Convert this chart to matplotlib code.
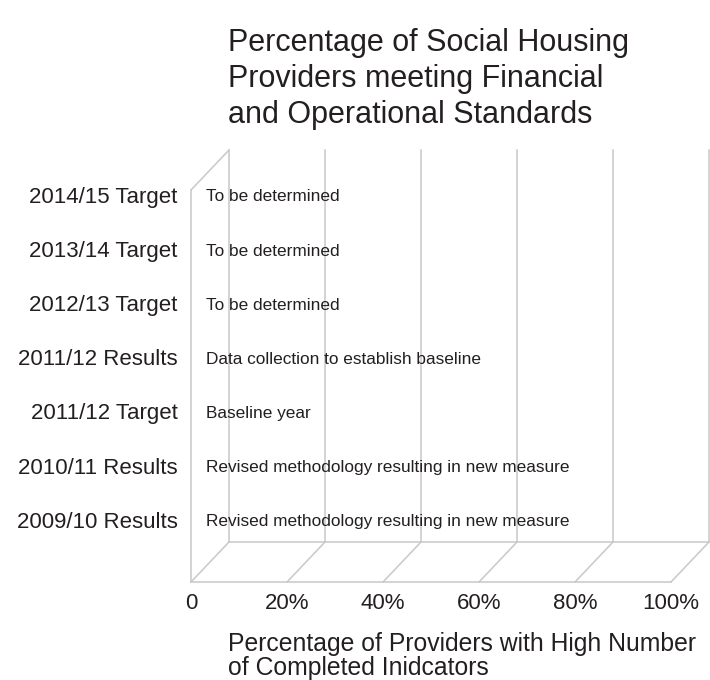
import matplotlib
matplotlib.use('Agg')
import matplotlib.pyplot as plt
from matplotlib.patches import ConnectionPatch
from matplotlib.transforms import ScaledTranslation

# ---------------------------------------------------------------------------
# Data
# ---------------------------------------------------------------------------
categories = [
    '2009/10 Results', '2010/11 Results', '2011/12 Target', '2011/12 Results',
    '2012/13 Target', '2013/14 Target', '2014/15 Target',
]
notes = [
    'Revised methodology resulting in new measure',
    'Revised methodology resulting in new measure',
    'Baseline year',
    'Data collection to establish baseline',
    'To be determined',
    'To be determined',
    'To be determined',
]
x_ticks = [0, 20, 40, 60, 80, 100]
x_tick_labels = ['0', '20%', '40%', '60%', '80%', '100%']

title = ('Percentage of Social Housing\n'
         'Providers meeting Financial\n'
         'and Operational Standards')
x_title = ('Percentage of Providers with High Number\n'
           'of Completed Inidcators')

TEXT = '#231f20'
GRID = '#c8c8c8'
FONT = 'Liberation Sans'

plt.rcParams['font.family'] = [FONT, 'DejaVu Sans']

fig = plt.figure(figsize=(7.1, 6.8), dpi=100)
ax = fig.add_axes([191 / 710, 98 / 680, 480 / 710, 392 / 680])
ax.set_xlim(0, 100)
ax.set_ylim(-1.15, 6.09)
for s in ax.spines.values():
    s.set_visible(False)

# depth offset of the fake 3-D back wall (in pixels at dpi=100)
back = ax.transData + ScaledTranslation(0.38, 0.40, fig.dpi_scale_trans)
y0, y1 = ax.get_ylim()

# back wall gridlines + back floor edge
for xv in x_ticks:
    ax.plot([xv, xv], [y0, y1], color=GRID, lw=1.1, transform=back, clip_on=False)
ax.plot([0, 100], [y0, y0], color=GRID, lw=1.1, transform=back, clip_on=False)

# floor: front edge and depth lines
ax.plot([0, 100], [y0, y0], color=GRID, lw=1.1, clip_on=False)
for xv in x_ticks:
    con = ConnectionPatch((xv, y0), (xv, y0), coordsA=ax.transData, coordsB=back,
                          color=GRID, lw=1.1)
    fig.add_artist(con)

# left wall: front edge and top depth line
ax.plot([0, 0], [y0, y1], color=GRID, lw=1.1, clip_on=False)
fig.add_artist(ConnectionPatch((0, y1), (0, y1), coordsA=ax.transData, coordsB=back,
                               color=GRID, lw=1.1))

# row notes instead of bars
for i, note in enumerate(notes):
    ax.annotate(note, (0, i), xytext=(15, -2), textcoords='offset pixels',
                ha='left', va='center', fontsize=12.4, color=TEXT)

ax.set_yticks(range(len(categories)))
ax.set_yticklabels(categories, fontsize=16, color=TEXT)
ax.set_xticks(x_ticks)
ax.set_xticklabels(x_tick_labels, fontsize=16, color=TEXT)
ax.tick_params(axis='y', length=0, pad=9.5)
ax.tick_params(axis='x', length=0, pad=8)

fig.text(228 / 710, 1 - 28 / 680, title, ha='left', va='top',
         fontsize=22, color=TEXT, linespacing=1.25)
fig.text(228 / 710, 1 - 632 / 680, x_title, ha='left', va='top',
         fontsize=17.8, color=TEXT, linespacing=1.02)

fig.savefig('out.png', dpi=100)
